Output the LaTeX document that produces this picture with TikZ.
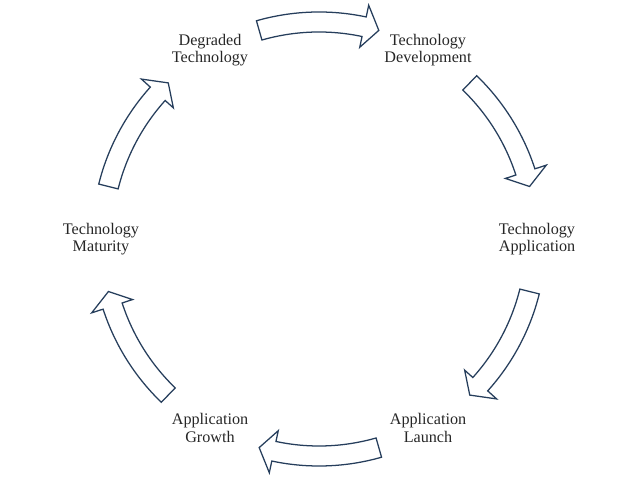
\documentclass[tikz,border=0pt]{standalone}
\usepackage{fontspec}
\setmainfont{Liberation Serif}
\usetikzlibrary{calc}

\definecolor{slateline}{RGB}{38,62,92}

% curved block arrow centred on angle #1 of the cycle
\newcommand{\cyclearrow}[1]{%
  \draw[blockarrow] ($(hub)+(#1+16:227)$) arc[start angle=#1+16, end angle=#1-12, radius=227]
    -- ($(hub)+(#1-12:239)$) -- ($(hub)+(#1-16:217)$) -- ($(hub)+(#1-12:196)$)
    -- ($(hub)+(#1-12:207)$) arc[start angle=#1-12, end angle=#1+16, radius=207] -- cycle;}

\begin{document}
\begin{tikzpicture}[
    x=0.025cm, y=0.025cm,
    stage/.style={align=center, inner sep=1pt, text=black!85, font=\fontsize{11.5}{12.5}\selectfont},
    blockarrow/.style={draw=slateline, line width=0.9pt, line join=miter, fill=white}
]
\useasboundingbox (0,0) rectangle (638,479);
\coordinate (hub) at (319,240);

% Nodes
\node[stage] (degraded) at ($(hub)+(120:218)$) {Degraded\\Technology};
\node[stage] (develop)  at ($(hub)+(60:218)$)  {Technology\\Development};
\node[stage] (apply)    at ($(hub)+(0:218)$)   {Technology\\Application};
\node[stage] (launch)   at ($(hub)+(-60:218)$) {Application\\Launch};
\node[stage] (growth)   at ($(hub)+(-120:218)$) {Application\\Growth};
\node[stage] (mature)   at ($(hub)+(180:218)$) {Technology\\Maturity};

% Arrows
\cyclearrow{90}
\cyclearrow{30}
\cyclearrow{-30}
\cyclearrow{-90}
\cyclearrow{-150}
\cyclearrow{150}

\end{tikzpicture}
\end{document}
